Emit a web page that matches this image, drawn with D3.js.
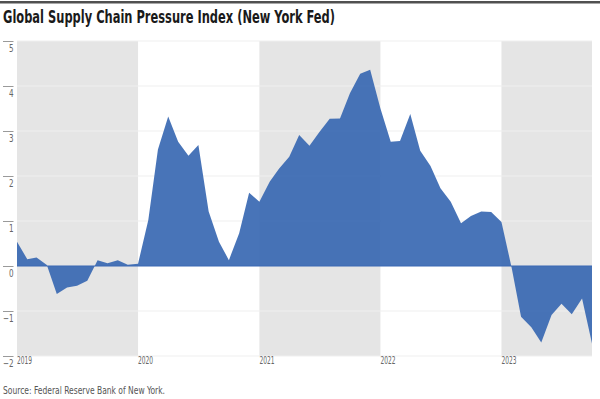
<!DOCTYPE html>
<html>
<head>
    <meta charset="utf-8">
    <title>Global Supply Chain Pressure Index</title>
    <script src="https://d3js.org/d3.v7.min.js"></script>
    <style>
        body { margin: 0; background: #fff; }
        svg { font-family: "Liberation Sans Narrow", "DejaVu Sans Condensed", "Liberation Sans", sans-serif; }
    </style>
</head>
<body>
    <script type="text/javascript">
    // monthly readings, Jan 2019 .. Oct 2023
    const firstMonth = new Date(2019, 0, 1);
    const gscpi2019 = [0.54, 0.15, 0.19, 0.02, -0.62, -0.48, -0.44, -0.33, 0.13, 0.06, 0.13, 0.03];
    const gscpi2020 = [0.05, 1.02, 2.59, 3.32, 2.76, 2.45, 2.69, 1.21, 0.54, 0.13, 0.73, 1.63];
    const gscpi2021 = [1.43, 1.87, 2.16, 2.43, 2.91, 2.67, 2.98, 3.27, 3.28, 3.84, 4.27, 4.36];
    const gscpi2022 = [3.50, 2.76, 2.78, 3.38, 2.56, 2.22, 1.73, 1.43, 0.95, 1.11, 1.21, 1.20];
    const gscpi2023 = [0.98, -0.05, -1.13, -1.36, -1.70, -1.09, -0.84, -1.07, -0.72, -1.72];

    const yearLabels = ["2019", "2020", "2021", "2022", "2023"];
    const shadedYears = [2019, 2021, 2023];
    const yTicks = [-2, -1, 0, 1, 2, 3, 4, 5];

    const values = [].concat(gscpi2019, gscpi2020, gscpi2021, gscpi2022, gscpi2023);
    const data = values.map((v, i) => ({date: d3.timeMonth.offset(firstMonth, i), value: v}));

    const width = 600;
    const height = 399;
    const margin = {top: 41, right: 8, bottom: 43, left: 17};

    const x = d3.scaleTime()
        .domain(d3.extent(data, d => d.date))
        .range([margin.left, width - margin.right]);

    const y = d3.scaleLinear()
        .domain([-2, 5])
        .range([height - margin.bottom, margin.top]);

    const svg = d3.select("body")
        .append("svg")
        .attr("width", width)
        .attr("height", height);

    // top rule
    svg.append("rect")
        .attr("x", 0).attr("y", 1)
        .attr("width", width).attr("height", 2.5)
        .attr("fill", "#505050");

    // condensed face is not installed, so squeeze the fallback to the same width
    svg.append("text")
        .attr("x", 3).attr("y", 22.5)
        .attr("font-size", 17)
        .attr("font-weight", "bold")
        .attr("fill", "#1a1a1a")
        .attr("textLength", 332)
        .attr("lengthAdjust", "spacingAndGlyphs")
        .text("Global Supply Chain Pressure Index (New York Fed)");

    // alternating year bands
    const xEnd = x.range()[1];
    svg.append("g")
        .selectAll("rect")
        .data(shadedYears)
        .join("rect")
        .attr("x", d => x(new Date(d, 0, 1)))
        .attr("y", y(5))
        .attr("width", d => Math.min(x(new Date(d + 1, 0, 1)), xEnd) - x(new Date(d, 0, 1)))
        .attr("height", y(-2) - y(5))
        .attr("fill", "#e5e5e5");

    // gridlines
    svg.append("g")
        .selectAll("line")
        .data(yTicks.filter(d => d !== 0))
        .join("line")
        .attr("x1", margin.left).attr("x2", xEnd)
        .attr("y1", d => y(d)).attr("y2", d => y(d))
        .attr("stroke", "#efefef")
        .attr("stroke-width", 1);

    // area
    const area = d3.area()
        .x(d => x(d.date))
        .y0(y(0))
        .y1(d => y(d.value));

    svg.append("path")
        .datum(data)
        .attr("d", area)
        .attr("fill", "#3a69b3")
        .attr("fill-opacity", 0.93);

    svg.append("line")
        .attr("x1", margin.left).attr("x2", xEnd)
        .attr("y1", y(0)).attr("y2", y(0))
        .attr("stroke", "#3a69b3")
        .attr("stroke-width", 1.2);

    // y axis: short ticks with labels underneath
    const yAxis = svg.append("g");
    yAxis.selectAll("line")
        .data(yTicks)
        .join("line")
        .attr("x1", 3).attr("x2", 13.5)
        .attr("y1", d => y(d) + 0.5).attr("y2", d => y(d) + 0.5)
        .attr("stroke", "#9a9a9a");
    yAxis.selectAll("text")
        .data(yTicks)
        .join("text")
        .attr("x", 13.5)
        .attr("y", d => y(d) + 11.5)
        .attr("text-anchor", "end")
        .attr("font-size", 10)
        .attr("fill", "#666")
        .attr("transform", d => `translate(${13.5 * 0.2},0) scale(0.8,1)`)
        .text(d => d3.format("")(d).replace("-", "\u2212"));

    // year labels
    svg.append("g")
        .selectAll("text")
        .data(yearLabels)
        .join("text")
        .attr("x", d => x(new Date(+d, 0, 1)))
        .attr("y", y(-2) + 8)
        .attr("font-size", 10)
        .attr("fill", "#666")
        .attr("textLength", 15)
        .attr("lengthAdjust", "spacingAndGlyphs")
        .text(d => d);

    svg.append("text")
        .attr("x", 3).attr("y", 394)
        .attr("font-size", 10.5)
        .attr("fill", "#555")
        .attr("textLength", 162)
        .attr("lengthAdjust", "spacingAndGlyphs")
        .text("Source: Federal Reserve Bank of New York.");
    </script>
</body>
</html>
